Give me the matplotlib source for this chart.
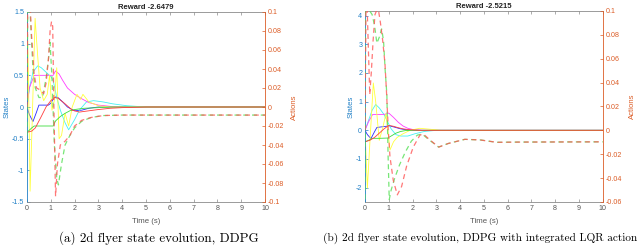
import matplotlib
matplotlib.use("Agg")
import matplotlib.pyplot as plt

plt.rcParams['axes.unicode_minus'] = False
plt.rcParams['font.family'] = ['Liberation Sans', 'DejaVu Sans']

# ---------------- data: panel (a) ----------------
titles = ["Reward -2.6479", "Reward -2.5215"]
captions = ["(a) 2d flyer state evolution, DDPG",
            "(b) 2d flyer state evolution, DDPG with integrated LQR action"]
xticks = [0, 1, 2, 3, 4, 5, 6, 7, 8, 9, 10]

a_blue_t = [0, 0.1, 0.25, 0.4, 0.5, 0.7, 0.9, 1.0, 1.1, 1.2, 1.3, 1.5, 1.7, 2.0, 2.3, 2.6, 3.0, 4, 10]
a_blue_v = [0, -0.12, -0.23, -0.08, 0.03, 0.03, 0.03, 0.06, 0.12, 0.16, 0.15, 0.08, 0.0, -0.06, -0.05, -0.02, 0, 0, 0]
a_cyan_t = [0, 0.1, 0.25, 0.45, 0.6, 0.8, 1.0, 1.1, 1.25, 1.4, 1.6, 1.75, 2.0, 2.2, 2.5, 2.8, 3.2, 3.6, 4.2, 5, 10]
a_cyan_v = [0, 0.3, 0.55, 0.65, 0.62, 0.55, 0.48, 0.42, 0.15, -0.05, -0.25, -0.36, -0.2, -0.05, 0.08, 0.1, 0.08, 0.05, 0.02, 0, 0]
a_mag_t = [0, 0.1, 0.3, 0.6, 1.0, 1.1, 1.2, 1.35, 1.5, 1.7, 2.0, 2.3, 2.6, 3.0, 3.5, 4, 10]
a_mag_v = [0, 0.3, 0.5, 0.5, 0.5, 0.5, 0.57, 0.52, 0.42, 0.3, 0.2, 0.13, 0.07, 0.03, 0.01, 0, 0]
a_yel_t = [0, 0.06, 0.13, 0.22, 0.34, 0.45, 0.55, 0.7, 0.85, 0.95, 1.05, 1.15, 1.25, 1.35, 1.45, 1.6, 1.75, 1.9, 2.1, 2.25, 2.35, 2.6, 3.0, 3.5, 10]
a_yel_v = [1.6, 0.5, -1.33, -0.2, 1.4, 0.8, 0.3, 0.1, 0.2, 0.5, -0.05, 0.1, 0.62, -0.5, -0.45, -0.1, -0.3, 0.0, 0.2, 0.12, 0.2, 0.08, 0.02, 0, 0]
a_grn_t = [0, 0.2, 0.3, 0.6, 1.0, 1.1, 1.2, 1.4, 1.6, 1.8, 2.0, 2.4, 3.0, 3.5, 10]
a_grn_v = [-0.4, -0.33, -0.3, -0.3, -0.3, -0.3, -0.22, -0.15, -0.1, -0.06, -0.04, -0.02, -0.01, 0, 0]
a_red_t = [0, 0.2, 0.35, 0.6, 0.8, 1.0, 1.15, 1.3, 1.6, 1.9, 2.2, 2.6, 3.0, 3.5, 4, 5, 10]
a_red_v = [-0.4, -0.38, -0.33, -0.15, 0.0, 0.1, 0.15, 0.14, 0.05, -0.05, -0.08, -0.06, -0.04, -0.02, -0.01, 0, 0]
a_act1_t = [0, 0.03, 0.1, 0.18, 0.3, 0.4, 0.55, 0.7, 0.8, 0.9, 0.97, 1.03, 1.08, 1.13, 1.2, 1.28, 1.4, 1.6, 1.8, 2.0, 2.3, 2.7, 3.2, 4, 10]
a_act1_v = [0, 0.11, 0.13, 0.08, 0.035, 0.02, 0.018, 0.014, 0.025, 0.05, 0.08, 0.09, 0.085, 0.0, -0.094, -0.06, -0.04, -0.036, -0.03, -0.02, -0.014, -0.011, -0.009, -0.0085, -0.0085]
a_act2_t = [0, 0.03, 0.08, 0.15, 0.25, 0.35, 0.5, 0.65, 0.8, 0.9, 0.97, 1.05, 1.15, 1.25, 1.32, 1.45, 1.6, 1.8, 2.0, 2.3, 2.7, 3.2, 4, 10]
a_act2_v = [-0.03, 0.11, 0.12, 0.09, 0.04, 0.02, 0.01, 0.01, 0.03, 0.05, 0.068, 0.03, -0.04, -0.075, -0.082, -0.06, -0.04, -0.03, -0.022, -0.015, -0.011, -0.009, -0.0085, -0.0085]

# ---------------- data: panel (b) ----------------
b_blue_t = [0, 0.1, 0.25, 0.4, 0.5, 0.7, 0.9, 1.0, 1.2, 1.5, 1.8, 2.2, 10]
b_blue_v = [0, -0.15, -0.29, -0.05, 0.1, 0.12, 0.14, 0.16, 0.12, 0.05, 0.01, 0, 0]
b_cyan_t = [0, 0.15, 0.3, 0.45, 0.6, 0.8, 0.95, 1.1, 1.3, 1.5, 1.8, 2.1, 2.5, 3, 10]
b_cyan_v = [0, 0.35, 0.7, 0.9, 0.78, 0.55, 0.3, 0.05, -0.15, -0.2, -0.2, -0.12, -0.04, 0, 0]
b_mag_t = [0, 0.15, 0.32, 0.6, 0.85, 1.0, 1.2, 1.4, 1.6, 1.8, 2.0, 2.4, 10]
b_mag_v = [0, 0.3, 0.55, 0.55, 0.56, 0.6, 0.45, 0.28, 0.15, 0.07, 0.03, 0, 0]
b_yel_t = [0, 0.05, 0.1, 0.2, 0.35, 0.45, 0.6, 0.75, 0.88, 0.95, 1.05, 1.2, 1.35, 1.6, 1.9, 2.3, 2.7, 3.2, 10]
b_yel_v = [0.0, -1.0, -2.02, -0.5, 1.65, 1.0, -0.35, 0.1, 0.58, 0.1, -0.69, -0.4, -0.25, -0.12, 0.0, 0.07, 0.04, 0, 0]
b_grn_t = [0, 0.2, 0.3, 0.6, 0.95, 1.1, 1.3, 1.5, 1.7, 2.0, 10]
b_grn_v = [-0.4, -0.33, -0.28, -0.28, -0.27, -0.2, -0.1, -0.04, -0.01, 0, 0]
b_red_t = [0, 0.2, 0.4, 0.6, 0.8, 1.0, 1.2, 1.4, 1.6, 1.9, 2.3, 10]
b_red_v = [-0.4, -0.35, -0.25, -0.1, 0.05, 0.17, 0.14, 0.09, 0.05, 0.02, 0, 0]
b_act1_t = [0, 0.04, 0.08, 0.14, 0.2, 0.27, 0.34, 0.42, 0.5, 0.58, 0.65, 0.74, 0.84, 0.91, 0.98, 1.05, 1.19, 1.36, 1.54, 1.75, 2.03, 2.31, 2.45, 2.73, 3.1, 3.5, 4.2, 4.84, 5.54, 6.5, 10]
b_act1_v = [0, 0.1, 0.11, 0.07, 0.03, 0.05, 0.075, 0.097, 0.101, 0.099, 0.09, 0.076, 0.056, 0.03, 0.0, -0.022, -0.042, -0.054, -0.047, -0.030, -0.014, -0.004, -0.003, -0.008, -0.014, -0.011, -0.0075, -0.008, -0.0100, -0.0098, -0.0096]
b_act2_t = [0, 0.02, 0.1, 0.2, 0.3, 0.4, 0.5, 0.6, 0.7, 0.78, 0.85, 0.92, 0.97, 1.02, 1.1, 1.25, 1.45, 1.7, 1.95, 2.2, 2.4, 2.7, 3.1, 3.5, 4.2, 4.84, 5.54, 6.5, 10]
b_act2_v = [-0.065, 0.1, 0.105, 0.1, 0.097, 0.088, 0.073, 0.078, 0.085, 0.075, 0.05, 0.03, -0.02, -0.058, -0.05, -0.04, -0.029, -0.018, -0.009, -0.004, -0.003, -0.008, -0.014, -0.011, -0.0075, -0.008, -0.010, -0.0098, -0.0096]

a_ylim_states = (-1.5, 1.5)
a_yticks_states = [-1.5, -1, -0.5, 0, 0.5, 1, 1.5]
a_ylim_act = (-0.1, 0.1)
a_yticks_act = [-0.1, -0.08, -0.06, -0.04, -0.02, 0, 0.02, 0.04, 0.06, 0.08, 0.1]
b_ylim_states = (-2.5, 4.16)
b_yticks_states = [-2, -1, 0, 1, 2, 3, 4]
b_ylim_act = (-0.06, 0.1)
b_yticks_act = [-0.06, -0.04, -0.02, 0, 0.02, 0.04, 0.06, 0.08, 0.1]

# ---------------- styling ----------------
C_LEFT = '#1f7fc6'
C_RIGHT = '#dc5c26'
C_BOX = '#8a8a8a'
state_colors = ['#2a2aff', '#44f2f2', '#ff3cff', '#ffff3c', '#3cdc3c', '#ff3c3c']
FS = 5.1

fig = plt.figure(figsize=(6.4, 2.45), dpi=100)

panels = [
    dict(pos=[27/640, 1-202/245, 238/640, 190/245],
         states=[(a_blue_t, a_blue_v), (a_cyan_t, a_cyan_v), (a_mag_t, a_mag_v),
                 (a_yel_t, a_yel_v), (a_grn_t, a_grn_v), (a_red_t, a_red_v)],
         acts=[(a_act2_t, a_act2_v), (a_act1_t, a_act1_v)],
         ylim=a_ylim_states, yticks=a_yticks_states,
         ylim2=a_ylim_act, yticks2=a_yticks_act,
         title=titles[0], caption=captions[0], capx=159/640, capfs=9.4),
    dict(pos=[365/640, 1-202/245, 237.7/640, 191/245],
         states=[(b_blue_t, b_blue_v), (b_cyan_t, b_cyan_v), (b_mag_t, b_mag_v),
                 (b_yel_t, b_yel_v), (b_grn_t, b_grn_v), (b_red_t, b_red_v)],
         acts=[(b_act2_t, b_act2_v), (b_act1_t, b_act1_v)],
         ylim=b_ylim_states, yticks=b_yticks_states,
         ylim2=b_ylim_act, yticks2=b_yticks_act,
         title=titles[1], caption=captions[1], capx=480/640, capfs=8.1),
]

def fmt(v):
    return '%g' % v

for p in panels:
    ax = fig.add_axes(p['pos'])
    for (t, v), c in zip(p['states'], state_colors):
        ax.plot(t, v, color=c, lw=0.6, solid_joinstyle='round')
    ax.set_xlim(0, 10)
    ax.set_ylim(*p['ylim'])
    ax.set_xticks(xticks)
    ax.set_xticklabels([str(x) for x in xticks])
    ax.set_yticks(p['yticks'])
    ax.set_yticklabels([fmt(v) for v in p['yticks']])
    ax.tick_params(axis='x', direction='in', length=2, width=0.5, colors=C_BOX,
                   labelcolor='#555555', labelsize=FS, pad=2, top=True)
    ax.tick_params(axis='y', direction='in', length=2, width=0.5, colors=C_LEFT,
                   labelcolor=C_LEFT, labelsize=FS, pad=2)
    for s in ['top', 'bottom']:
        ax.spines[s].set_color(C_BOX)
        ax.spines[s].set_linewidth(0.6)
    ax.spines['left'].set_color(C_LEFT)
    ax.spines['left'].set_linewidth(0.6)
    ax.spines['right'].set_visible(False)
    ax.set_xlabel('Time (s)', fontsize=5.6, color='#555555', labelpad=4.5)
    ax.set_ylabel('States', fontsize=5.6, color=C_LEFT, labelpad=1)
    ax.set_title(p['title'], fontsize=5.5, fontweight='bold', pad=2, color='#222222')

    ax2 = ax.twinx()
    for (t, v), c in zip(p['acts'], ['#55e055', '#ff5555']):
        ax2.plot(t, v, color=c, lw=0.9, ls=(0, (4, 3)), alpha=0.8)
    ax2.set_ylim(*p['ylim2'])
    ax2.set_yticks(p['yticks2'])
    ax2.set_yticklabels([fmt(v) for v in p['yticks2']])
    ax2.tick_params(axis='y', direction='in', length=2, width=0.5, colors=C_RIGHT,
                    labelcolor=C_RIGHT, labelsize=FS, pad=2)
    ax2.spines['right'].set_color(C_RIGHT)
    ax2.spines['right'].set_linewidth(0.6)
    for s in ['top', 'bottom', 'left']:
        ax2.spines[s].set_visible(False)
    ax2.set_ylabel('Actions', fontsize=5.6, color=C_RIGHT, labelpad=5)

    fig.text(p['capx'], 7/245, p['caption'], ha='center', va='center',
             fontsize=p['capfs'], family='cmr10')

fig.savefig('out.png', dpi=100)
